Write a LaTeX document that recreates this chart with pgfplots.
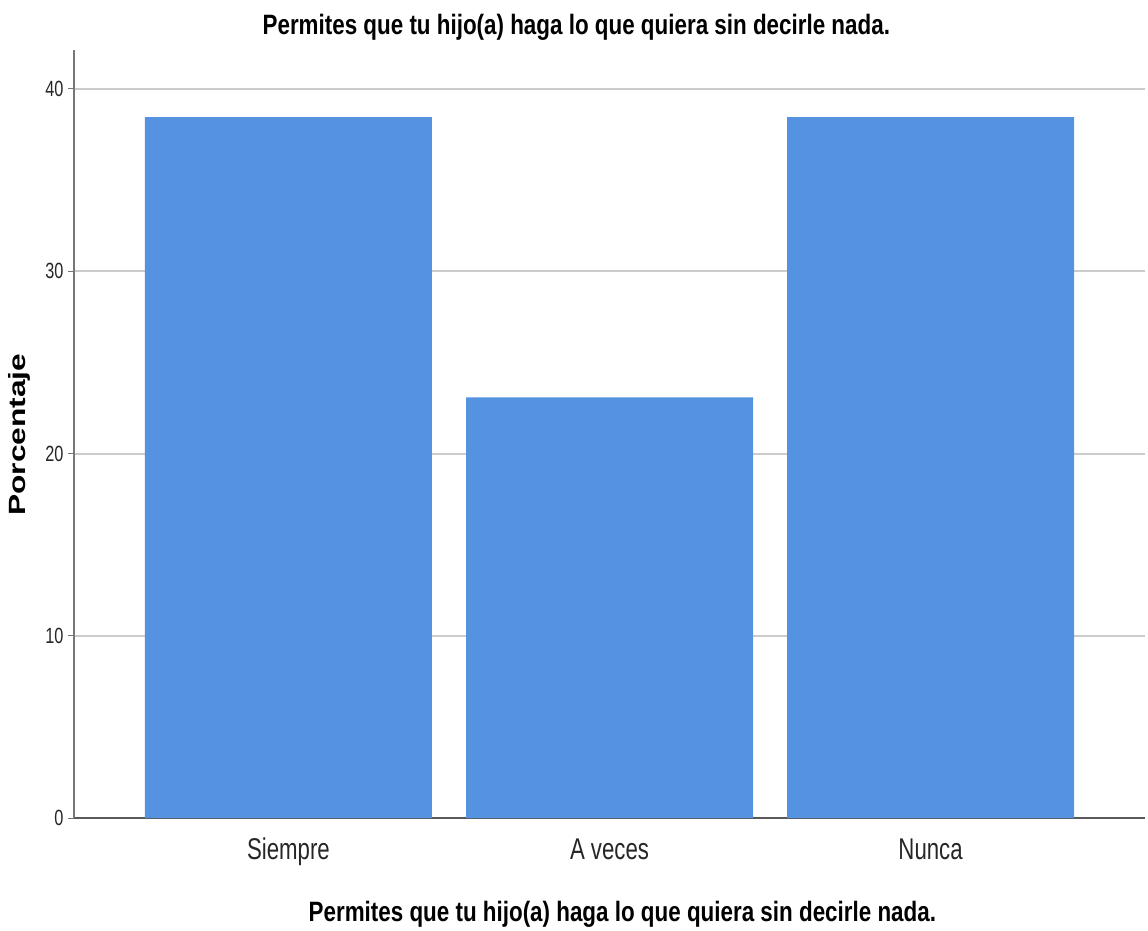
\documentclass[border=0pt]{standalone}
\usepackage{fontspec}
\usepackage{pgfplots}
\pgfplotsset{compat=1.18}
\newfontfamily\narrowfont[FakeStretch=0.74]{Liberation Sans}
\newfontfamily\titlefont[FakeStretch=0.80]{Liberation Sans}
\newfontfamily\widefont[FakeStretch=1.35]{Liberation Sans}
\definecolor{barblue}{HTML}{5593E1}
\definecolor{gridgray}{HTML}{CCCCCC}
\definecolor{axgray}{HTML}{777777}
\begin{document}
\begin{tikzpicture}
\useasboundingbox (0,0) rectangle (1148pt,930pt);
\begin{axis}[
  at={(74pt,112pt)}, anchor=south west,
  scale only axis, width=1071pt, height=768pt,
  xmin=-0.668, xmax=2.668, ymin=0, ymax=42.14,
  axis x line=bottom, axis y line=left,
  axis line style={-, line width=1.5pt},
  x axis line style={draw=black!65},
  y axis line style={draw=axgray},
  xtick={0,1,2}, xticklabels={Siempre, A veces, Nunca},
  xtick style={draw=none},
  ytick={0,10,20,30,40},
  ytick style={draw=axgray, line width=1pt},
  tick align=outside, major tick length=6pt,
  ymajorgrids, grid style={draw=gridgray, line width=2pt},
  /pgf/number format/assume math mode=true,
  xticklabel style={font=\narrowfont\fontsize{30}{36}\selectfont, text=black!85, anchor=base, yshift=-35pt},
  yticklabel style={font=\narrowfont\fontsize{22}{26}\selectfont, text=black!85, xshift=-1pt},
  title={\textbf{Permites que tu hijo(a) haga lo que quiera sin decirle nada.}},
  title style={font=\titlefont\fontsize{28}{34}\selectfont, at={(axis description cs:0.469,1.012)}, anchor=base},
  xlabel={\textbf{Permites que tu hijo(a) haga lo que quiera sin decirle nada.}},
  xlabel style={font=\titlefont\fontsize{28}{34}\selectfont, at={(axis description cs:0.512,-0.135)}, anchor=base},
  ylabel={\textbf{Porcentaje}},
  ylabel style={font=\widefont\fontsize{23.5}{28}\selectfont, at={(axis description cs:-0.051,0.499)}, anchor=center, rotate=0},
]
\addplot[ybar, bar width=287pt, fill=barblue, draw=none] coordinates {(0,38.46) (1,23.08) (2,38.46)};
\end{axis}
\end{tikzpicture}
\end{document}
